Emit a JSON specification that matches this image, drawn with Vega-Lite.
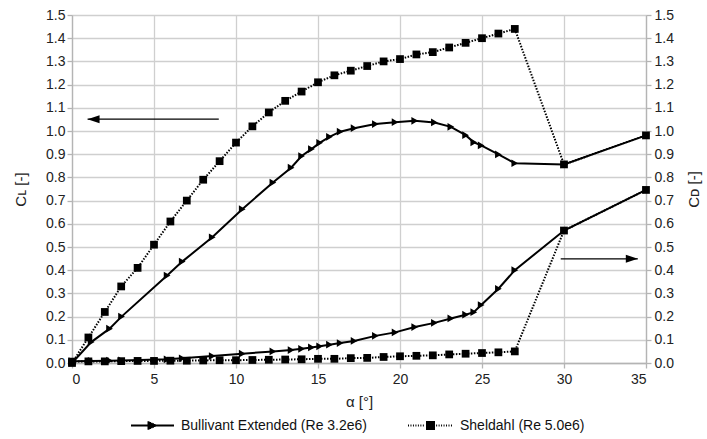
{
  "$schema": "https://vega.github.io/schema/vega-lite/v6.json",
  "width": 574,
  "height": 348,
  "autosize": {"type": "none"},
  "padding": {"left": 72, "top": 15, "right": 61, "bottom": 76},
  "background": "white",
  "config": {
    "font": "Liberation Sans",
    "view": {"stroke": null},
    "axis": {
      "domainColor": "#b4b4b4",
      "domainWidth": 1.3,
      "gridColor": "#cfcfcf",
      "gridWidth": 1.3,
      "tickColor": "#b4b4b4",
      "tickWidth": 1.3,
      "tickSize": 5,
      "labelPadding": 2,
      "labelFontSize": 14,
      "labelColor": "#222222",
      "titleFontSize": 15,
      "titleFontWeight": "normal",
      "titleColor": "#222222"
    },
    "legend": {
      "orient": "none", "direction": "horizontal", "title": null, "padding": 0,
      "labelFontSize": 14, "labelColor": "#111111", "labelOffset": 6, "labelLimit": 400,
      "symbolStrokeWidth": 2, "symbolStrokeColor": "black", "symbolOpacity": 1
    }
  },
  "datasets": {
    "polars": [
      {"series": "Bullivant Extended (Re 3.2e6)", "alpha": 0, "CL": 0.0, "CD": 0.008},
      {"series": "Bullivant Extended (Re 3.2e6)", "alpha": 1.17, "CL": 0.09, "CD": 0.009},
      {"series": "Bullivant Extended (Re 3.2e6)", "alpha": 2.29, "CL": 0.148, "CD": 0.010},
      {"series": "Bullivant Extended (Re 3.2e6)", "alpha": 3.02, "CL": 0.2, "CD": 0.011},
      {"series": "Bullivant Extended (Re 3.2e6)", "alpha": 5.8, "CL": 0.377, "CD": 0.016},
      {"series": "Bullivant Extended (Re 3.2e6)", "alpha": 6.72, "CL": 0.437, "CD": 0.020},
      {"series": "Bullivant Extended (Re 3.2e6)", "alpha": 8.55, "CL": 0.542, "CD": 0.030},
      {"series": "Bullivant Extended (Re 3.2e6)", "alpha": 10.38, "CL": 0.663, "CD": 0.040},
      {"series": "Bullivant Extended (Re 3.2e6)", "alpha": 12.25, "CL": 0.778, "CD": 0.050},
      {"series": "Bullivant Extended (Re 3.2e6)", "alpha": 13.36, "CL": 0.842, "CD": 0.056},
      {"series": "Bullivant Extended (Re 3.2e6)", "alpha": 14.0, "CL": 0.892, "CD": 0.061},
      {"series": "Bullivant Extended (Re 3.2e6)", "alpha": 14.6, "CL": 0.922, "CD": 0.067},
      {"series": "Bullivant Extended (Re 3.2e6)", "alpha": 15.1, "CL": 0.949, "CD": 0.072},
      {"series": "Bullivant Extended (Re 3.2e6)", "alpha": 15.7, "CL": 0.975, "CD": 0.079},
      {"series": "Bullivant Extended (Re 3.2e6)", "alpha": 16.35, "CL": 0.997, "CD": 0.086},
      {"series": "Bullivant Extended (Re 3.2e6)", "alpha": 17.2, "CL": 1.012, "CD": 0.095},
      {"series": "Bullivant Extended (Re 3.2e6)", "alpha": 18.5, "CL": 1.03, "CD": 0.117},
      {"series": "Bullivant Extended (Re 3.2e6)", "alpha": 19.7, "CL": 1.038, "CD": 0.132},
      {"series": "Bullivant Extended (Re 3.2e6)", "alpha": 20.9, "CL": 1.044, "CD": 0.155},
      {"series": "Bullivant Extended (Re 3.2e6)", "alpha": 22.1, "CL": 1.037, "CD": 0.173},
      {"series": "Bullivant Extended (Re 3.2e6)", "alpha": 23.1, "CL": 1.018, "CD": 0.192},
      {"series": "Bullivant Extended (Re 3.2e6)", "alpha": 24.0, "CL": 0.982, "CD": 0.208},
      {"series": "Bullivant Extended (Re 3.2e6)", "alpha": 24.5, "CL": 0.951, "CD": 0.219},
      {"series": "Bullivant Extended (Re 3.2e6)", "alpha": 24.95, "CL": 0.938, "CD": 0.25},
      {"series": "Bullivant Extended (Re 3.2e6)", "alpha": 26.0, "CL": 0.899, "CD": 0.32},
      {"series": "Bullivant Extended (Re 3.2e6)", "alpha": 27.0, "CL": 0.861, "CD": 0.40},
      {"series": "Bullivant Extended (Re 3.2e6)", "alpha": 30, "CL": 0.856, "CD": 0.571},
      {"series": "Bullivant Extended (Re 3.2e6)", "alpha": 35, "CL": 0.981, "CD": 0.746},
      {"series": "Sheldahl (Re 5.0e6)", "alpha": 0, "CL": 0.0, "CD": 0.006},
      {"series": "Sheldahl (Re 5.0e6)", "alpha": 1, "CL": 0.11, "CD": 0.007},
      {"series": "Sheldahl (Re 5.0e6)", "alpha": 2, "CL": 0.22, "CD": 0.007},
      {"series": "Sheldahl (Re 5.0e6)", "alpha": 3, "CL": 0.33, "CD": 0.008},
      {"series": "Sheldahl (Re 5.0e6)", "alpha": 4, "CL": 0.41, "CD": 0.009},
      {"series": "Sheldahl (Re 5.0e6)", "alpha": 5, "CL": 0.51, "CD": 0.009},
      {"series": "Sheldahl (Re 5.0e6)", "alpha": 6, "CL": 0.61, "CD": 0.010},
      {"series": "Sheldahl (Re 5.0e6)", "alpha": 7, "CL": 0.70, "CD": 0.010},
      {"series": "Sheldahl (Re 5.0e6)", "alpha": 8, "CL": 0.79, "CD": 0.011},
      {"series": "Sheldahl (Re 5.0e6)", "alpha": 9, "CL": 0.87, "CD": 0.012},
      {"series": "Sheldahl (Re 5.0e6)", "alpha": 10, "CL": 0.95, "CD": 0.012},
      {"series": "Sheldahl (Re 5.0e6)", "alpha": 11, "CL": 1.02, "CD": 0.013},
      {"series": "Sheldahl (Re 5.0e6)", "alpha": 12, "CL": 1.08, "CD": 0.014},
      {"series": "Sheldahl (Re 5.0e6)", "alpha": 13, "CL": 1.13, "CD": 0.015},
      {"series": "Sheldahl (Re 5.0e6)", "alpha": 14, "CL": 1.17, "CD": 0.016},
      {"series": "Sheldahl (Re 5.0e6)", "alpha": 15, "CL": 1.21, "CD": 0.018},
      {"series": "Sheldahl (Re 5.0e6)", "alpha": 16, "CL": 1.24, "CD": 0.018},
      {"series": "Sheldahl (Re 5.0e6)", "alpha": 17, "CL": 1.26, "CD": 0.021},
      {"series": "Sheldahl (Re 5.0e6)", "alpha": 18, "CL": 1.28, "CD": 0.022},
      {"series": "Sheldahl (Re 5.0e6)", "alpha": 19, "CL": 1.30, "CD": 0.026},
      {"series": "Sheldahl (Re 5.0e6)", "alpha": 20, "CL": 1.31, "CD": 0.029},
      {"series": "Sheldahl (Re 5.0e6)", "alpha": 21, "CL": 1.33, "CD": 0.031},
      {"series": "Sheldahl (Re 5.0e6)", "alpha": 22, "CL": 1.34, "CD": 0.033},
      {"series": "Sheldahl (Re 5.0e6)", "alpha": 23, "CL": 1.36, "CD": 0.037},
      {"series": "Sheldahl (Re 5.0e6)", "alpha": 24, "CL": 1.38, "CD": 0.040},
      {"series": "Sheldahl (Re 5.0e6)", "alpha": 25, "CL": 1.40, "CD": 0.043},
      {"series": "Sheldahl (Re 5.0e6)", "alpha": 26, "CL": 1.42, "CD": 0.046},
      {"series": "Sheldahl (Re 5.0e6)", "alpha": 27, "CL": 1.44, "CD": 0.050},
      {"series": "Sheldahl (Re 5.0e6)", "alpha": 30, "CL": 0.856, "CD": 0.571},
      {"series": "Sheldahl (Re 5.0e6)", "alpha": 35, "CL": 0.981, "CD": 0.746}
    ],
    "arrows": [
      {"dir": "left", "from": 8.95, "to": 0.95, "level": 1.051},
      {"dir": "right", "from": 29.8, "to": 34.5, "level": 0.449}
    ]
  },
  "layer": [
    {
      "data": {"name": "polars"},
      "encoding": {
        "x": {
          "field": "alpha", "type": "quantitative",
          "scale": {"domain": [0, 35], "nice": false},
          "axis": {"values": [0, 5, 10, 15, 20, 25, 30, 35], "title": "α [°]", "titlePadding": 8, "labelPadding": 4}
        },
        "y": {
          "field": "CL", "type": "quantitative",
          "scale": {"domain": [0, 1.5], "nice": false},
          "axis": {
            "orient": "left", "title": "Cʟ [-]", "format": ".1f",
            "titleAngle": 270, "titleX": -52, "titleY": 174, "titleAlign": "center", "titleBaseline": "middle",
            "values": [0, 0.1, 0.2, 0.3, 0.4, 0.5, 0.6, 0.7, 0.8, 0.9, 1.0, 1.1, 1.2, 1.3, 1.4, 1.5]
          }
        }
      },
      "layer": [
        {
          "transform": [{"filter": "datum.series === 'Bullivant Extended (Re 3.2e6)'"}],
          "mark": {"type": "line", "color": "black", "strokeWidth": 2},
          "encoding": {
            "opacity": {
              "field": "series", "type": "nominal",
              "scale": {"domain": ["Bullivant Extended (Re 3.2e6)", "Sheldahl (Re 5.0e6)"], "range": [1, 1]},
              "legend": {
                "values": ["Bullivant Extended (Re 3.2e6)"], "legendX": 58, "legendY": 388, "symbolSize": 1849,
                "symbolType": "M-1,0H1M-0.186,-0.198V0.198M-0.116,-0.165V0.165M-0.047,-0.132V0.132M0.023,-0.099V0.099M0.093,-0.066V0.066M0.163,-0.033V0.033"
              }
            }
          }
        },
        {
          "transform": [{"filter": "datum.series === 'Sheldahl (Re 5.0e6)'"}],
          "mark": {"type": "line", "color": "black", "strokeWidth": 2, "strokeDash": [1.5, 1.5], "strokeCap": "butt"}
        },
        {
          "transform": [{"filter": "datum.series === 'Bullivant Extended (Re 3.2e6)'"}],
          "mark": {"type": "point", "shape": "triangle-right", "filled": true, "color": "black", "opacity": 1, "size": 60}
        },
        {
          "transform": [{"filter": "datum.series === 'Sheldahl (Re 5.0e6)'"}],
          "mark": {"type": "point", "shape": "square", "filled": true, "color": "black", "opacity": 1, "size": 60}
        }
      ]
    },
    {
      "data": {"name": "polars"},
      "encoding": {
        "x": {"field": "alpha", "type": "quantitative"},
        "y": {
          "field": "CD", "type": "quantitative",
          "scale": {"domain": [0, 1.5], "nice": false},
          "axis": {
            "orient": "right", "title": "Cᴅ [-]", "format": ".1f", "grid": false, "labelPadding": 3,
            "titleAngle": 270, "titleX": 47, "titleY": 174, "titleAlign": "center", "titleBaseline": "middle",
            "values": [0, 0.1, 0.2, 0.3, 0.4, 0.5, 0.6, 0.7, 0.8, 0.9, 1.0, 1.1, 1.2, 1.3, 1.4, 1.5]
          }
        }
      },
      "layer": [
        {
          "transform": [{"filter": "datum.series === 'Bullivant Extended (Re 3.2e6)'"}],
          "mark": {"type": "line", "color": "black", "strokeWidth": 2},
          "encoding": {
            "opacity": {
              "field": "series", "type": "nominal",
              "scale": {"domain": ["Sheldahl (Re 5.0e6)", "Bullivant Extended (Re 3.2e6)"], "range": [1, 1]},
              "legend": {
                "values": ["Sheldahl (Re 5.0e6)"], "legendX": 335, "legendY": 387, "symbolSize": 2025,
                "symbolType": "M-1,0h0.044M-0.89,0h0.044M-0.78,0h0.044M-0.67,0h0.044M-0.56,0h0.044M-0.45,0h0.044M-0.34,0h0.044M0.25,0h0.044M0.36,0h0.044M0.47,0h0.044M0.58,0h0.044M0.69,0h0.044M0.8,0h0.044M0.91,0h0.044M-0.2,-0.156H0.2M-0.2,-0.078H0.2M-0.2,0H0.2M-0.2,0.078H0.2M-0.2,0.156H0.2"
              }
            }
          }
        },
        {
          "transform": [{"filter": "datum.series === 'Sheldahl (Re 5.0e6)'"}],
          "mark": {"type": "line", "color": "black", "strokeWidth": 2, "strokeDash": [1.5, 1.5], "strokeCap": "butt"}
        },
        {
          "transform": [{"filter": "datum.series === 'Bullivant Extended (Re 3.2e6)'"}],
          "mark": {"type": "point", "shape": "triangle-right", "filled": true, "color": "black", "opacity": 1, "size": 60}
        },
        {
          "transform": [{"filter": "datum.series === 'Sheldahl (Re 5.0e6)'"}],
          "mark": {"type": "point", "shape": "square", "filled": true, "color": "black", "opacity": 1, "size": 60}
        }
      ]
    },
    {
      "data": {"name": "arrows"},
      "encoding": {
        "y": {"field": "level", "type": "quantitative", "scale": {"domain": [0, 1.5], "nice": false}, "axis": null}
      },
      "layer": [
        {
          "mark": {"type": "rule", "color": "black", "strokeWidth": 1.2},
          "encoding": {
            "x": {"field": "from", "type": "quantitative"},
            "x2": {"field": "to"}
          }
        },
        {
          "transform": [{"filter": "datum.dir === 'left'"}],
          "mark": {"type": "point", "filled": true, "color": "black", "opacity": 1, "shape": "M0,0L2,-0.67L2,0.67Z", "size": 144},
          "encoding": {"x": {"field": "to", "type": "quantitative"}}
        },
        {
          "transform": [{"filter": "datum.dir === 'right'"}],
          "mark": {"type": "point", "filled": true, "color": "black", "opacity": 1, "shape": "M0,0L-2,-0.67L-2,0.67Z", "size": 144},
          "encoding": {"x": {"field": "to", "type": "quantitative"}}
        }
      ]
    }
  ],
  "resolve": {
    "scale": {"y": "independent", "opacity": "independent"},
    "legend": {"opacity": "independent"}
  }
}
